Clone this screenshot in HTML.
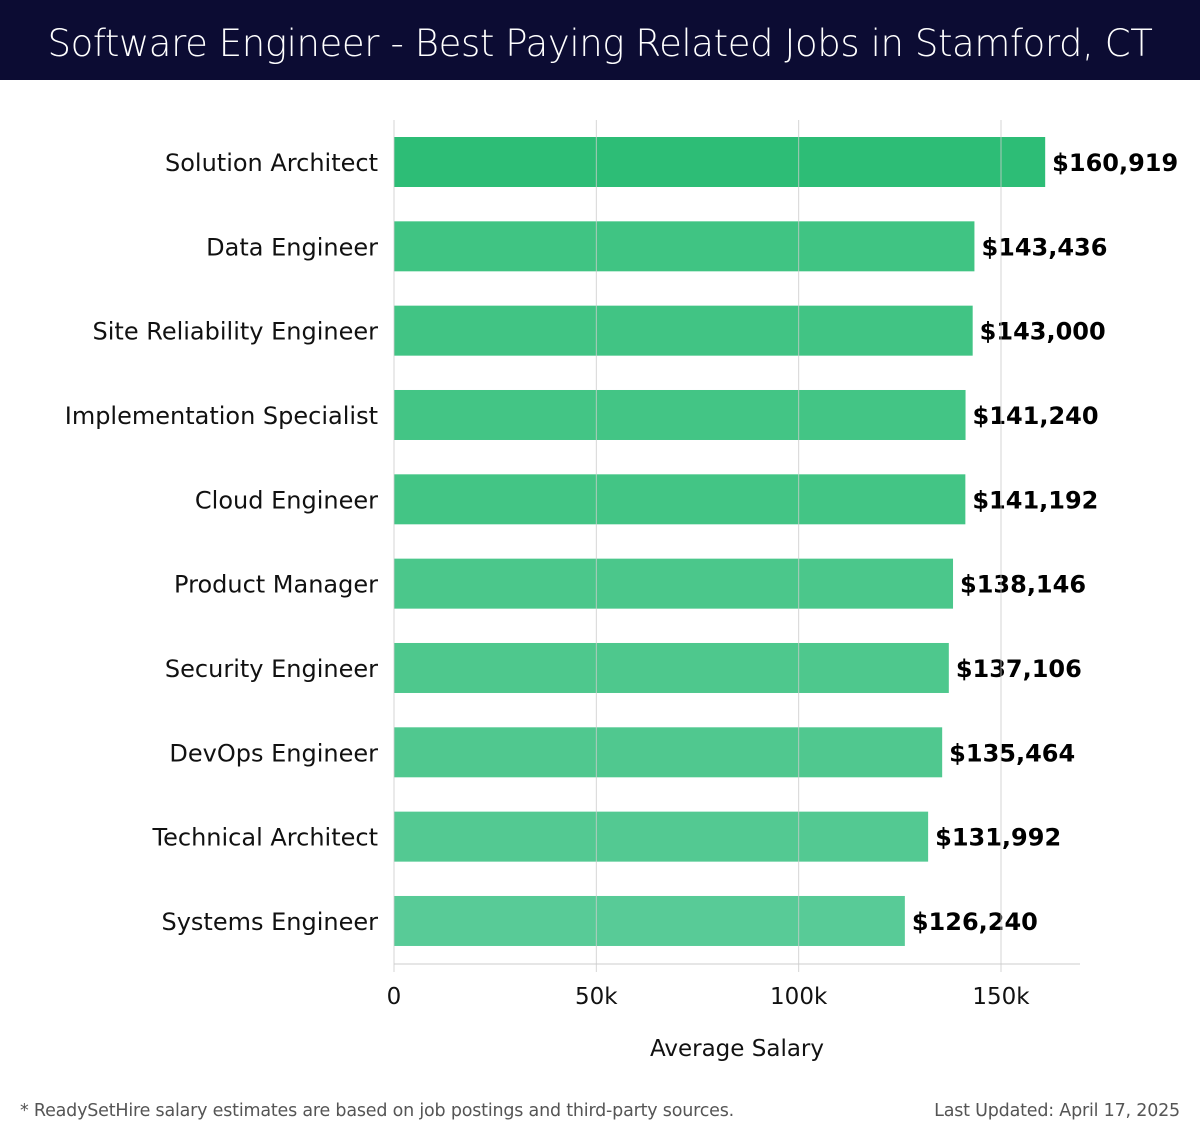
<!DOCTYPE html>
<html><head><meta charset="utf-8"><style>
body{margin:0;background:#fff;width:1200px;height:1140px;overflow:hidden;font-family:"Liberation Sans","DejaVu Sans",sans-serif}
#hdr{position:absolute;left:0;top:0;width:1200px;height:80px;background:#0c0c33;color:#fff;font-size:37px;text-align:center;line-height:88px;font-family:"DejaVu Sans","Liberation Sans",sans-serif;font-weight:300;letter-spacing:-0.4px}
.foot{position:absolute;top:1101px;font-size:17.5px;color:#555;font-family:"DejaVu Sans","Liberation Sans",sans-serif;letter-spacing:-0.2px}
</style></head><body>
<div id="hdr">Software Engineer - Best Paying Related Jobs in Stamford, CT</div>
<svg id="chart" width="1200" height="1140" style="position:absolute;left:0;top:0;pointer-events:none"></svg>
<div class="foot" style="left:20px">* ReadySetHire salary estimates are based on job postings and third-party sources.</div>
<div class="foot" style="right:20px">Last Updated: April 17, 2025</div>
<script>
const categories=["Solution Architect","Data Engineer","Site Reliability Engineer","Implementation Specialist","Cloud Engineer","Product Manager","Security Engineer","DevOps Engineer","Technical Architect","Systems Engineer"];
const salaries=[160919,143436,143000,141240,141192,138146,137106,135464,131992,126240];
const tickValues=[0,50000,100000,150000];
const tickLabels=["0","50k","100k","150k"];
const colors=["#2dbd76","#40c483","#41c484","#43c585","#43c585","#4bc78b","#4ec88d","#50c88f","#53c992","#58cb97"];
const NS="http://www.w3.org/2000/svg";
const svg=document.getElementById('chart');
const x0=394,pxPerUnit=(1001-394)/150000,plotRight=1080,top0=120,bottom=964;
const band=84.33;
const xs=v=>x0+v*pxPerUnit;
const yc=i=>162+band*i;
function mk(t,a){const e=document.createElementNS(NS,t);for(const k in a)e.setAttribute(k,a[k]);svg.appendChild(e);return e;}
categories.forEach((c,i)=>{
  const r=mk('rect',{x:x0,y:yc(i)-25,width:xs(salaries[i])-x0,height:50,fill:colors[i]});
  
  
  const l=mk('text',{x:378,y:yc(i)+9,'text-anchor':'end','font-size':24,fill:'#111','font-family':'DejaVu Sans, Liberation Sans, sans-serif'});
  l.textContent=c;
  
  
  const v=mk('text',{x:xs(salaries[i])+7,y:yc(i)+9,'font-size':24,'font-weight':'bold',fill:'#000','font-family':'DejaVu Sans, Liberation Sans, sans-serif'});
  v.textContent='$'+salaries[i].toLocaleString('en-US');
  
  
});
tickValues.forEach((t,i)=>{
  const g=mk('line',{x1:xs(t),x2:xs(t),y1:top0,y2:972,stroke:'#ccc','stroke-width':1,'stroke-opacity':0.8});
  
  
  const tl=mk('text',{x:xs(t),y:1004,'text-anchor':'middle','font-size':23,fill:'#111','font-family':'DejaVu Sans, Liberation Sans, sans-serif'});
  tl.textContent=tickLabels[i];
  
  
});
const ax=mk('line',{x1:x0,x2:plotRight,y1:bottom,y2:bottom,stroke:'#ccc','stroke-width':1});


const at=mk('text',{x:737,y:1056,'text-anchor':'middle','font-size':23,fill:'#111','font-family':'DejaVu Sans, Liberation Sans, sans-serif'});
at.textContent='Average Salary';


</script>
</body></html>
